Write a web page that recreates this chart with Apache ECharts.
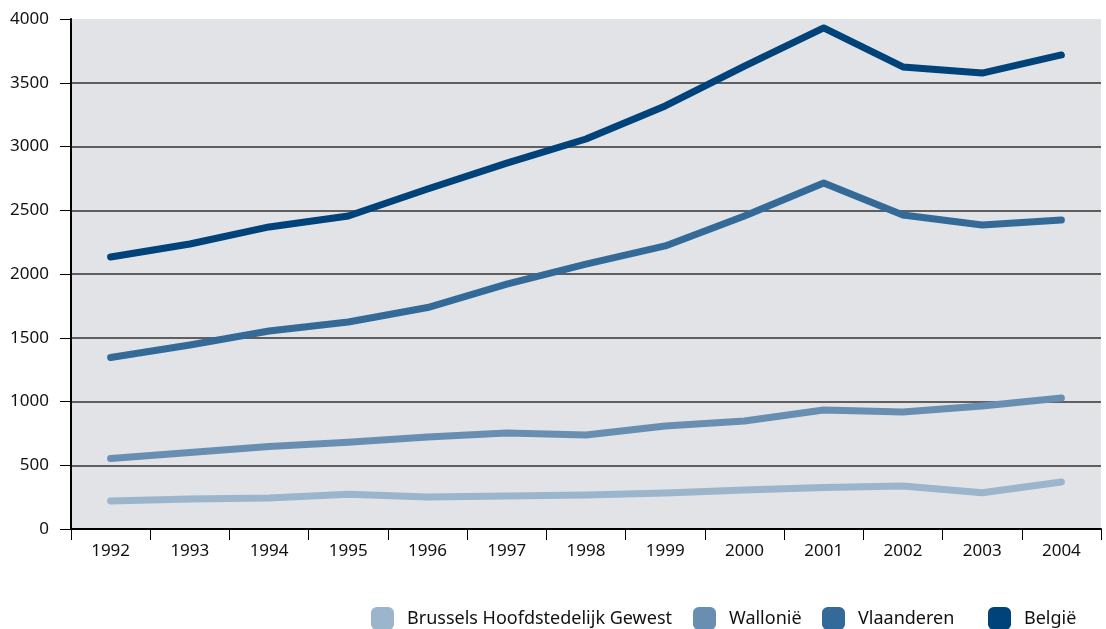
<!DOCTYPE html>
<html>
<head>
<meta charset="utf-8">
<script src="https://cdn.jsdelivr.net/npm/echarts@6/dist/echarts.min.js"></script>
<style>
  html, body { margin: 0; padding: 0; background: #fff; }
  #chart { width: 1106px; height: 629px; }
</style>
</head>
<body>
<div id="chart"></div>
<script>
// jaren en waarden
let years = ['1992','1993','1994','1995','1996','1997','1998','1999','2000','2001','2002','2003','2004'];
let brussel = [220, 235, 243, 272, 251, 259, 267, 282, 306, 325, 337, 285, 369];
let wallonie = [553, 600, 647, 680, 722, 753, 737, 808, 847, 933, 918, 965, 1027];
let vlaanderen = [1345, 1443, 1553, 1624, 1737, 1920, 2078, 2220, 2455, 2714, 2463, 2384, 2424];
let belgie = [2133, 2235, 2369, 2455, 2667, 2870, 3059, 3318, 3631, 3930, 3624, 3576, 3718];
let names = ['Brussels Hoofdstedelijk Gewest', 'Wallonië', 'Vlaanderen', 'België'];
let colors = ['#9bb5cd', '#688fb2', '#336a98', '#00427a'];
let legendLeft = [371, 693, 822, 988];

let chart = echarts.init(document.getElementById('chart'));

let makeLine = (name, data, color) => {
    return {
        name: name,
        type: 'line',
        data: data,
        symbol: 'none',
        color: color,
        lineStyle: { width: 7, color: color, cap: 'round', join: 'round' },
        emphasis: { disabled: true }
    };
};

// één legenda per reeks, zodat elk item op zijn plek staat
let legends = names.map((n, i) => {
    return {
        left: legendLeft[i], top: 607,
        padding: 0,
        itemWidth: 23, itemHeight: 23,
        icon: 'roundRect',
        selectedMode: false,
        textStyle: { fontSize: 18, color: '#111', fontFamily: 'Noto Sans', padding: [0, 0, 0, 8] },
        data: [n]
    };
});

let option = {
    animation: false,
    textStyle: { fontFamily: 'Noto Sans' },
    grid: {
        left: 71, right: 5, top: 19, bottom: 100,
        show: true, backgroundColor: '#e1e3e6', borderWidth: 0
    },
    legend: legends,
    xAxis: {
        type: 'category',
        data: years,
        boundaryGap: true,
        axisLine: { lineStyle: { color: '#000', width: 2 } },
        axisTick: { show: true, length: 11, lineStyle: { color: '#000', width: 1 } },
        axisLabel: { color: '#111', fontSize: 17, margin: 14 }
    },
    yAxis: {
        type: 'value',
        min: 0, max: 4000, interval: 500,
        axisLine: { show: true, lineStyle: { color: '#000', width: 2 } },
        axisTick: { show: true, length: 11, lineStyle: { color: '#000', width: 1 } },
        axisLabel: { color: '#111', fontSize: 17, margin: 22, formatter: (v) => String(v) },
        splitLine: {
            show: true,
            lineStyle: {
                color: ['#333','#333','#333','#333','#333','#333','#333','#333','rgba(0,0,0,0)'],
                width: 1.5
            }
        }
    },
    series: [
        makeLine(names[0], brussel, colors[0]),
        makeLine(names[1], wallonie, colors[1]),
        makeLine(names[2], vlaanderen, colors[2]),
        makeLine(names[3], belgie, colors[3])
    ]
};

chart.setOption(option);
</script>
</body>
</html>
